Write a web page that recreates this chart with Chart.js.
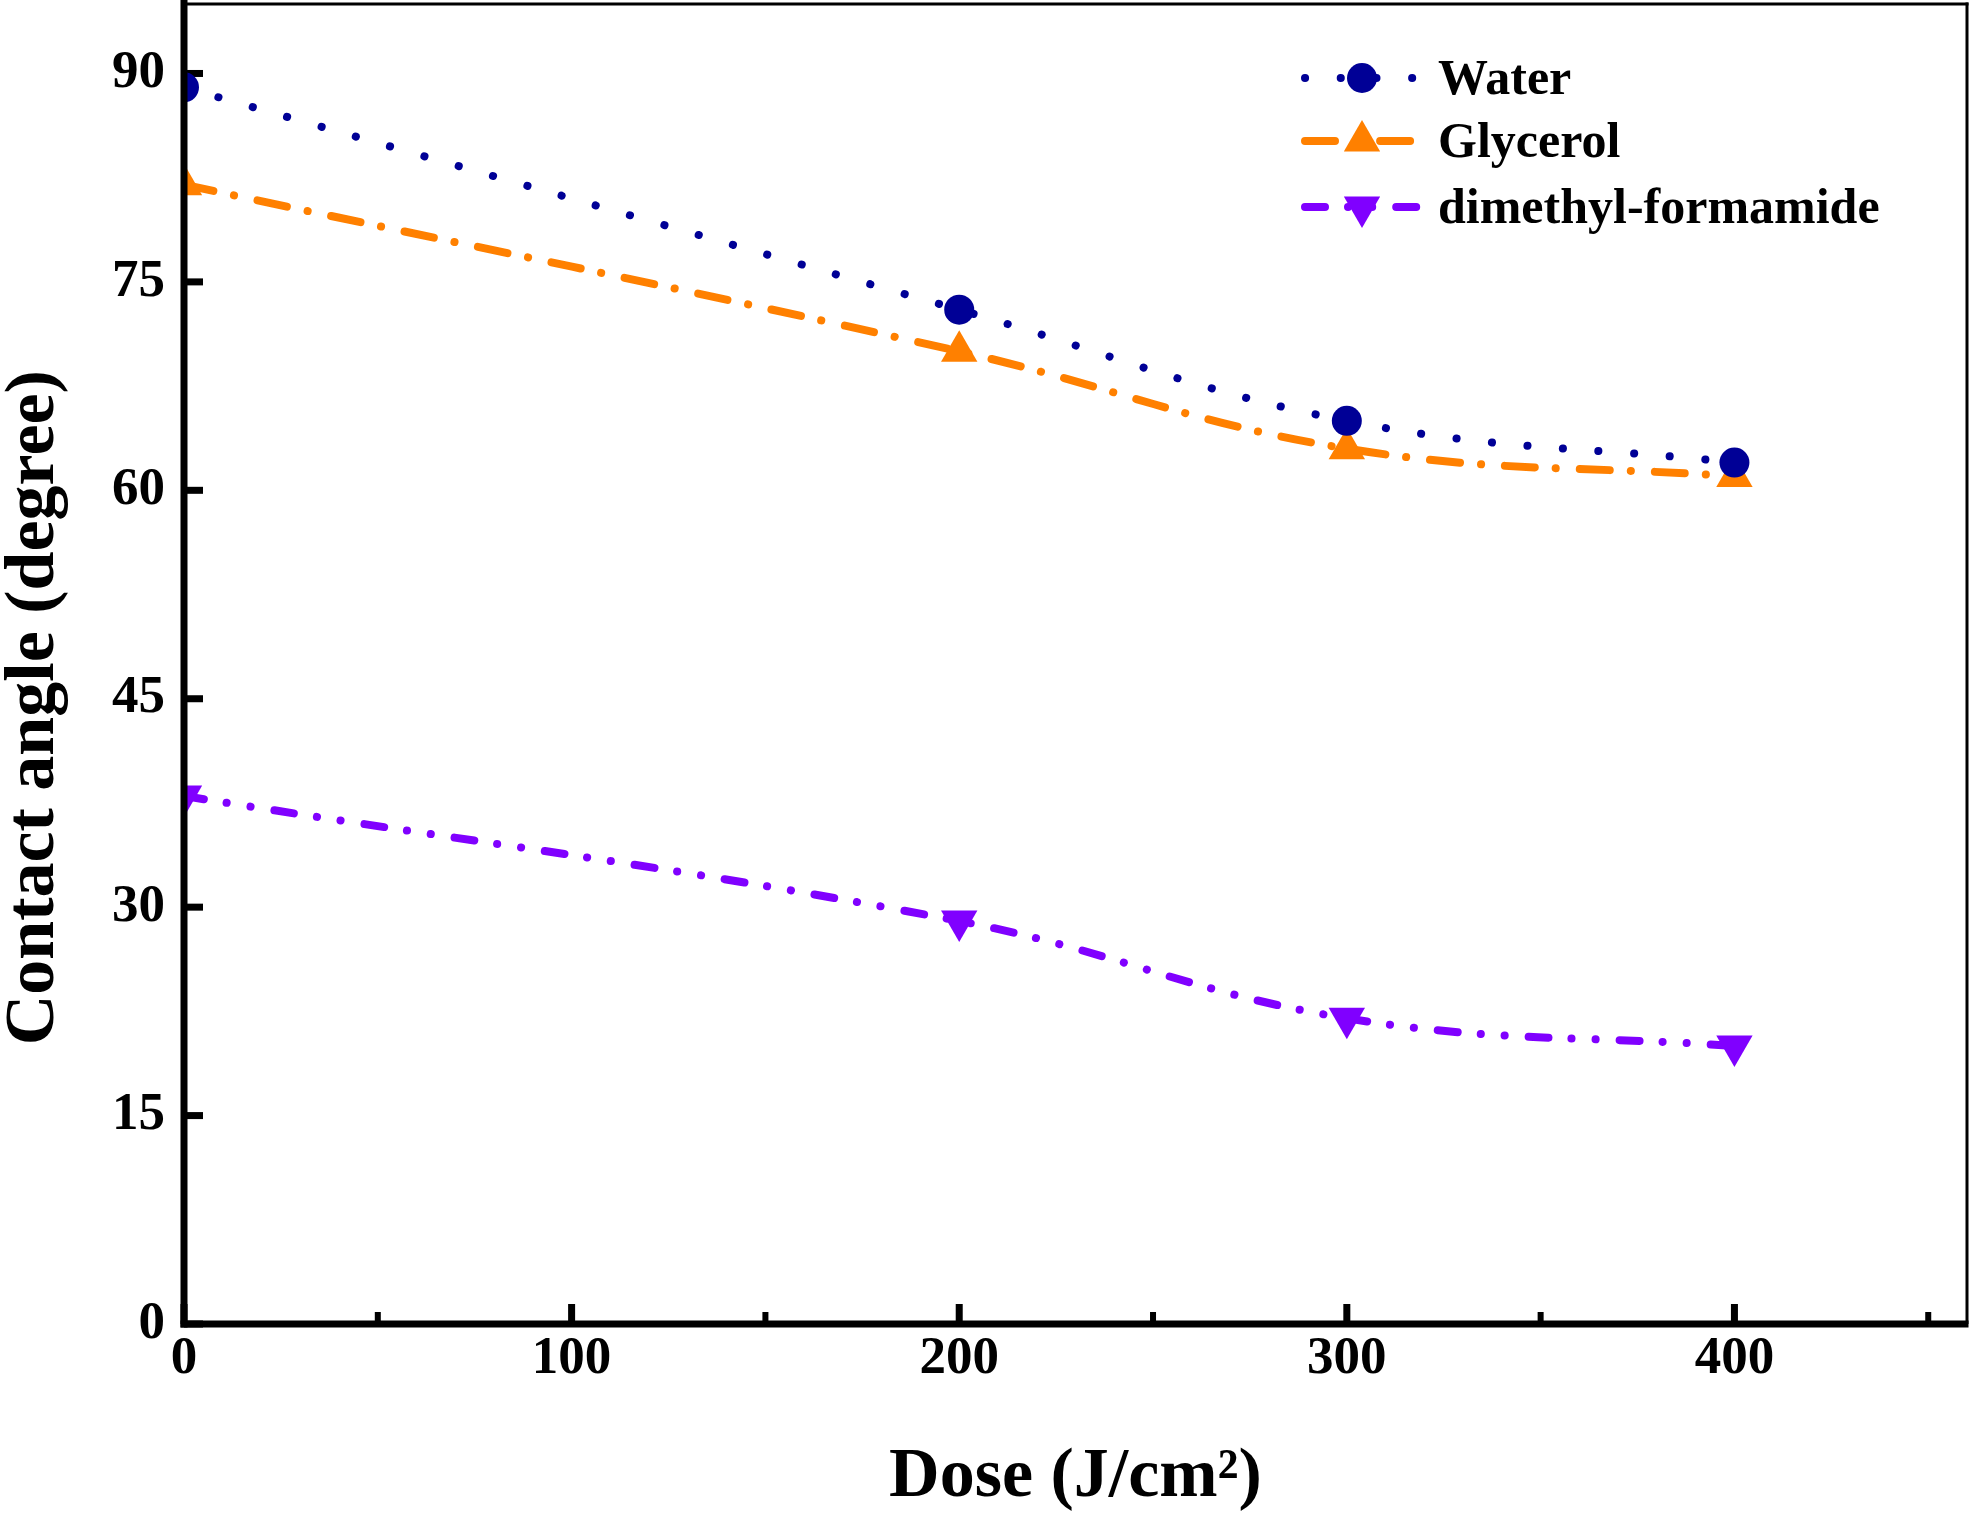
<!DOCTYPE html>
<html>
<head>
<meta charset="utf-8">
<script src="https://cdn.jsdelivr.net/npm/chart.js@4.4.1/dist/chart.umd.min.js"></script>
<style>
html,body{margin:0;padding:0;background:#fff;}
#wrap{width:1972px;height:1514px;}
</style>
</head>
<body>
<div id="wrap"><canvas id="c" width="1972" height="1514"></canvas></div>
<script>
// ---- data ----
const doses = [0, 200, 300, 400];
const water = [89, 73, 65, 62];
const glycerol = [82, 70, 63, 61];
const dmf = [38, 29, 22, 20];
const seriesNames = ['Water', 'Glycerol', 'dimethyl-formamide'];
const xTickValues = [0, 100, 200, 300, 400];
const xMinorValues = [50, 150, 250, 350, 450];
const yTickValues = [0, 15, 30, 45, 60, 75, 90];
const xTitle = 'Dose (J/cm\u00B2)';
const yTitle = 'Contact angle (degree)';

const FONT = "'Liberation Serif', 'Times New Roman', serif";
const NAVY = '#000096';
const ORANGE = '#FF8000';
const PURPLE = '#8000FF';

function toPoints(xs, ys) { return xs.map((x, i) => ({x: x, y: ys[i]})); }

const tickPlugin = {
  id: 'ticksInward',
  beforeDatasetsDraw(chart) {
    const {ctx, chartArea: a, scales: {x, y}} = chart;
    ctx.save();
    ctx.fillStyle = '#000';
    xTickValues.forEach(v => { const px = x.getPixelForValue(v); ctx.fillRect(px - 3.5, a.bottom - 20, 7, 20); });
    xMinorValues.forEach(v => { const px = x.getPixelForValue(v); ctx.fillRect(px - 3, a.bottom - 12, 6, 12); });
    yTickValues.forEach(v => { const py = y.getPixelForValue(v); ctx.fillRect(a.left, py - 3.5, 19, 7); });
    ctx.restore();
  }
};

const framePlugin = {
  id: 'frame',
  afterDatasetsDraw(chart) {
    const {ctx, chartArea: a} = chart;
    ctx.save();
    ctx.fillStyle = '#000';
    ctx.fillRect(a.left, a.top - 1.5, a.right - a.left + 1.5, 3);
    ctx.fillRect(a.right - 1.5, a.top - 1.5, 3, a.bottom - a.top + 1.5);
    ctx.fillRect(a.left - 3.5, a.top - 4, 7, a.bottom - a.top + 7.5);
    ctx.fillRect(a.left - 3.5, a.bottom - 3.5, a.right - a.left + 5, 7);
    ctx.restore();
  }
};

function drawMarker(ctx, style, r, rot, x, y) {
  ctx.beginPath();
  if (style === 'circle') {
    ctx.arc(x, y, r, 0, Math.PI * 2);
  } else {
    let rad = rot * Math.PI / 180;
    ctx.moveTo(x + Math.sin(rad) * r, y - Math.cos(rad) * r);
    rad += 2 * Math.PI / 3;
    ctx.lineTo(x + Math.sin(rad) * r, y - Math.cos(rad) * r);
    rad += 2 * Math.PI / 3;
    ctx.lineTo(x + Math.sin(rad) * r, y - Math.cos(rad) * r);
    ctx.closePath();
  }
  ctx.fill();
}

const legendPlugin = {
  id: 'inLegend',
  afterDraw(chart, args, opts) {
    const ctx = chart.ctx;
    ctx.save();
    chart.data.datasets.forEach((ds, i) => {
      const yy = opts.rows[i];
      ctx.strokeStyle = ds.borderColor;
      ctx.lineWidth = ds.borderWidth;
      ctx.lineCap = 'round';
      ctx.setLineDash(ds.borderDash);
      ctx.beginPath();
      ctx.moveTo(opts.lineStart, yy);
      ctx.lineTo(opts.lineEnd, yy);
      ctx.stroke();
      ctx.setLineDash([]);
      ctx.fillStyle = ds.pointBackgroundColor;
      drawMarker(ctx, ds.pointStyle, ds.pointRadius, ds.pointRotation || 0, opts.markerX, yy);
      ctx.fillStyle = '#000';
      ctx.font = 'bold ' + opts.fontSize + 'px ' + FONT;
      ctx.textAlign = 'left';
      ctx.textBaseline = 'alphabetic';
      ctx.fillText(ds.label, opts.textX, yy + opts.baselineOffset);
    });
    ctx.restore();
  }
};

const tickFont = {family: FONT, size: 53, weight: 'bold'};

new Chart(document.getElementById('c'), {
  type: 'line',
  data: {
    datasets: [
      {
        label: seriesNames[0], data: toPoints(doses, water),
        borderColor: NAVY, backgroundColor: NAVY, pointBackgroundColor: NAVY,
        borderWidth: 8, borderDash: [0.1, 35.6], borderCapStyle: 'round',
        pointStyle: 'circle', pointRadius: 15, pointBorderWidth: 0, pointRotation: 0,
        tension: 0.4, fill: false
      },
      {
        label: seriesNames[1], data: toPoints(doses, glycerol),
        borderColor: ORANGE, backgroundColor: ORANGE, pointBackgroundColor: ORANGE,
        borderWidth: 8, borderDash: [30, 21, 0.1, 24], borderCapStyle: 'round',
        pointStyle: 'triangle', pointRadius: 21, pointBorderWidth: 0, pointRotation: 0,
        tension: 0.4, fill: false
      },
      {
        label: seriesNames[2], data: toPoints(doses, dmf),
        borderColor: PURPLE, backgroundColor: PURPLE, pointBackgroundColor: PURPLE,
        borderWidth: 8, borderDash: [20, 23, 0.1, 24, 0.1, 24], borderCapStyle: 'round',
        pointStyle: 'triangle', pointRadius: 21, pointBorderWidth: 0, pointRotation: 180,
        tension: 0.4, fill: false
      }
    ]
  },
  options: {
    responsive: false,
    animation: false,
    devicePixelRatio: 1,
    layout: {autoPadding: false, padding: {top: 4, right: 5, left: 0, bottom: 0}},
    plugins: {
      legend: {display: false},
      tooltip: {enabled: false},
      inLegend: {rows: [78, 141, 207], lineStart: 1305, lineEnd: 1420, markerX: 1362, textX: 1438, fontSize: 50, baselineOffset: 16}
    },
    scales: {
      x: {
        type: 'linear', position: 'bottom', min: 0, max: 460,
        afterBuildTicks: s => { s.ticks = xTickValues.map(v => ({value: v})); },
        afterFit: s => { s.height = 190; s.paddingLeft = 0; s.paddingRight = 0; s.paddingTop = 0; s.paddingBottom = 0; },
        grid: {display: false, drawTicks: false},
        border: {display: false},
        ticks: {font: tickFont, color: '#000', padding: 4, maxRotation: 0, autoSkip: false},
        title: {display: true, text: xTitle, color: '#000', font: {family: FONT, size: 70, weight: 'bold', lineHeight: 1}, padding: {top: 0, bottom: 1}}
      },
      y: {
        type: 'linear', position: 'left', min: 0, max: 95,
        afterBuildTicks: s => { s.ticks = yTickValues.map(v => ({value: v})); },
        afterFit: s => { s.width = 184; s.paddingLeft = 0; s.paddingRight = 0; s.paddingTop = 0; s.paddingBottom = 0; },
        grid: {display: false, drawTicks: false},
        border: {display: false},
        ticks: {font: tickFont, color: '#000', padding: 19, autoSkip: false},
        title: {display: true, text: yTitle + '     ', color: '#000', font: {family: FONT, size: 70, weight: 'bold', lineHeight: 1}, padding: {top: 0, bottom: 0}}
      }
    }
  },
  plugins: [tickPlugin, framePlugin, legendPlugin]
});
</script>
</body>
</html>
